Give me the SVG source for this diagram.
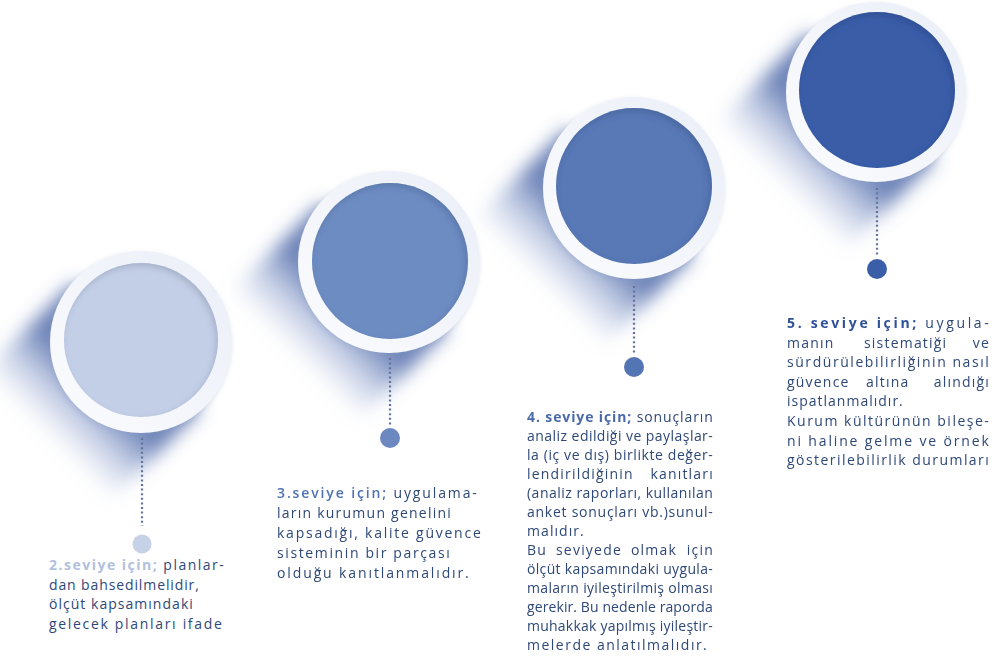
<svg xmlns="http://www.w3.org/2000/svg" width="1000" height="666" viewBox="0 0 1000 666">
<style>
.t{font-family:"Open Sans","Noto Sans","Liberation Sans",sans-serif;font-size:14px;fill:#2e4878;letter-spacing:1.2px}
.p2{fill:#b3bfdd;font-weight:700}
.p3{fill:#4f72b3;font-weight:600}
.p4{fill:#4a6aa9;font-weight:700}
.p5{fill:#2f5198;font-weight:700}
.ring{fill:url(#ringGrad);filter:url(#drop)}
.conn{stroke:#62729a;stroke-width:2.2;stroke-dasharray:2 2.6;fill:none}
</style>
<defs>
<linearGradient id="shadowGrad" gradientUnits="userSpaceOnUse" x1="0" y1="0" x2="-110" y2="110">
<stop offset="0.4" stop-color="#3d5aa0" stop-opacity="0.75"/>
<stop offset="0.68" stop-color="#6f88c2" stop-opacity="0.3"/>
<stop offset="1" stop-color="#ffffff" stop-opacity="0"/>
</linearGradient>
<linearGradient id="ringGrad" x1="1" y1="0" x2="0" y2="1">
<stop offset="0" stop-color="#eaeef7"/>
<stop offset="1" stop-color="#fbfcfe"/>
</linearGradient>
<filter id="blur" x="-50%" y="-50%" width="200%" height="200%">
<feGaussianBlur stdDeviation="9"/>
</filter>
<filter id="drop" x="-20%" y="-20%" width="140%" height="140%">
<feDropShadow dx="-1" dy="2" stdDeviation="2.5" flood-color="#8a9cc6" flood-opacity="0.35"/>
</filter>
<filter id="inner" x="-20%" y="-20%" width="140%" height="140%">
<feFlood flood-color="#0f2350" flood-opacity="0.3" result="f"/>
<feComposite in="f" in2="SourceAlpha" operator="out" result="o"/>
<feOffset in="o" dx="-2" dy="3" result="off"/>
<feGaussianBlur in="off" stdDeviation="3" result="bl"/>
<feComposite in="bl" in2="SourceAlpha" operator="in" result="sh"/>
<feMerge><feMergeNode in="SourceGraphic"/><feMergeNode in="sh"/></feMerge>
</filter>
<path id="longShadow" d="M -68,-60 L -155,27 L -27,155 L 60,68 Z"/>
</defs>

<g id="shadows" filter="url(#blur)">
<use href="#longShadow" transform="translate(141,342)" fill="url(#shadowGrad)"/>
<use href="#longShadow" transform="translate(389,262)" fill="url(#shadowGrad)"/>
<use href="#longShadow" transform="translate(634,188)" fill="url(#shadowGrad)"/>
<use href="#longShadow" transform="translate(876,92)" fill="url(#shadowGrad)"/>
</g>

<g id="connectors">
<line class="conn" x1="142" y1="438" x2="142" y2="526"/>
<line class="conn" x1="390" y1="358" x2="390" y2="426"/>
<line class="conn" x1="634" y1="286" x2="634" y2="354"/>
<line class="conn" x1="877" y1="188" x2="877" y2="256"/>
</g>

<g id="level2">
<circle class="ring" cx="141" cy="342" r="91"/>
<circle cx="141" cy="340" r="77" fill="#c3cfe7" filter="url(#inner)"/>
<circle cx="142" cy="544" r="9.5" fill="#c7d1e8"/>
<text class="t" x="49" y="570" textLength="176" lengthAdjust="spacing"><tspan class="p2">2.seviye için;</tspan> planlar-</text>
<text class="t" x="49" y="589.5" textLength="151" lengthAdjust="spacing">dan bahsedilmelidir,</text>
<text class="t" x="49" y="609" textLength="145" lengthAdjust="spacing">ölçüt kapsamındaki</text>
<text class="t" x="49" y="628.5" textLength="174" lengthAdjust="spacing">gelecek planları ifade</text>
</g>

<g id="level3">
<circle class="ring" cx="389" cy="262" r="91"/>
<circle cx="390" cy="261" r="78" fill="#6d8cc2" filter="url(#inner)"/>
<circle cx="390" cy="438" r="10" fill="#6c88c0"/>
<text class="t" x="277" y="498" textLength="201" lengthAdjust="spacing"><tspan class="p3">3.seviye için;</tspan> uygulama-</text>
<text class="t" x="277" y="518" textLength="175" lengthAdjust="spacing">ların kurumun genelini</text>
<text class="t" x="277" y="538" textLength="205" lengthAdjust="spacing">kapsadığı, kalite güvence</text>
<text class="t" x="277" y="558" textLength="174" lengthAdjust="spacing">sisteminin bir parçası</text>
<text class="t" x="277" y="578" textLength="193" lengthAdjust="spacing">olduğu kanıtlanmalıdır.</text>
</g>

<g id="level4">
<circle class="ring" cx="634" cy="188" r="91"/>
<circle cx="634" cy="186" r="78" fill="#5878b6" filter="url(#inner)"/>
<circle cx="634" cy="367" r="10" fill="#5475b3"/>
<text class="t" x="527" y="422" textLength="187" lengthAdjust="spacing"><tspan class="p4">4. seviye için;</tspan> sonuçların</text>
<text class="t" x="527" y="441" textLength="187" lengthAdjust="spacing">analiz edildiği ve paylaşlar-</text>
<text class="t" x="527" y="460" textLength="187" lengthAdjust="spacing">la (iç ve dış) birlikte değer-</text>
<text class="t" x="527" y="479">lendirildiğinin</text>
<text class="t" x="714" y="479" text-anchor="end">kanıtları</text>
<text class="t" x="527" y="498" textLength="187" lengthAdjust="spacing">(analiz raporları, kullanılan</text>
<text class="t" x="527" y="517" textLength="187" lengthAdjust="spacing">anket sonuçları vb.)sunul-</text>
<text class="t" x="527" y="536" textLength="58" lengthAdjust="spacing">malıdır.</text>
<text class="t" x="527" y="555">Bu</text>
<text class="t" x="556" y="555">seviyede</text>
<text class="t" x="631" y="555">olmak</text>
<text class="t" x="714" y="555" text-anchor="end">için</text>
<text class="t" x="527" y="574" textLength="187" lengthAdjust="spacing">ölçüt kapsamındaki uygula-</text>
<text class="t" x="527" y="593" textLength="187" lengthAdjust="spacing">maların iyileştirilmiş olması</text>
<text class="t" x="527" y="612" textLength="187" lengthAdjust="spacing">gerekir. Bu nedenle raporda</text>
<text class="t" x="527" y="631" textLength="187" lengthAdjust="spacing">muhakkak yapılmış iyileştir-</text>
<text class="t" x="527" y="650" textLength="181" lengthAdjust="spacing">melerde anlatılmalıdır.</text>
</g>

<g id="level5">
<circle class="ring" cx="876" cy="92" r="90"/>
<circle cx="877" cy="90" r="78" fill="#3a5da7" filter="url(#inner)"/>
<circle cx="877" cy="269" r="10" fill="#3b5ea8"/>
<text class="t" x="787" y="328" textLength="203" lengthAdjust="spacing"><tspan class="p5">5. seviye için;</tspan> uygula-</text>
<text class="t" x="787" y="347.5">manın</text>
<text class="t" x="864" y="347.5">sistematiği</text>
<text class="t" x="990" y="347.5" text-anchor="end">ve</text>
<text class="t" x="787" y="367" textLength="203" lengthAdjust="spacing">sürdürülebilirliğinin nasıl</text>
<text class="t" x="787" y="386.5">güvence</text>
<text class="t" x="866" y="386.5">altına</text>
<text class="t" x="990" y="386.5" text-anchor="end">alındığı</text>
<text class="t" x="787" y="406" textLength="117" lengthAdjust="spacing">ispatlanmalıdır.</text>
<text class="t" x="787" y="426" textLength="203" lengthAdjust="spacing">Kurum kültürünün bileşe-</text>
<text class="t" x="787" y="445.5" textLength="203" lengthAdjust="spacing">ni haline gelme ve örnek</text>
<text class="t" x="787" y="465" textLength="203" lengthAdjust="spacing">gösterilebilirlik durumları</text>
</g>
</svg>
